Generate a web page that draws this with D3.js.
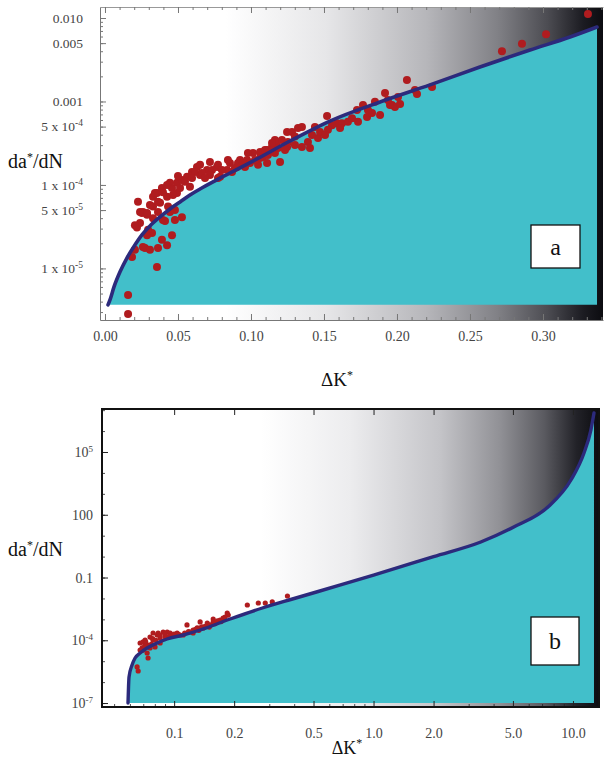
<!DOCTYPE html>
<html>
<head>
<meta charset="utf-8">
<script src="https://cdn.jsdelivr.net/npm/d3@7/dist/d3.min.js"></script>
<style>
  body { margin: 0; background: #fff; }
  svg { display: block; }
  text { font-family: "Liberation Serif", "Times New Roman", serif; }
</style>
</head>
<body>
<svg id="fig" width="605" height="760"></svg>
<script>
// ---------- panel a: measured growth rate vs ΔK* (linear ΔK*, log rate) ----------
const dKa = [
  0.0158,0.0158,0.0356,0.0185,0.0205,0.0274,0.0308,0.0363,0.0425,0.0459,
  0.039,0.0322,0.0295,0.0219,0.024,0.0205,0.0253,0.0288,0.0329,0.0377,
  0.0356,0.0425,0.039,0.0459,0.0493,0.0445,0.0527,0.0562,0.0596,0.063,
  0.0582,0.0493,0.0479,0.0527,0.0479,0.0445,0.0397,0.0651,0.0699,0.0733,
  0.0767,0.0788,0.0836,0.0856,0.0904,0.0925,0.0973,0.0993,0.1014,0.1062,
  0.1082,0.111,0.1144,0.1178,0.1212,0.1247,0.1164,
  0.0226,0.026,0.0288,0.026,0.0411,0.0329,0.0397,0.0425,0.0342,0.0363,
  0.0514,0.0466,0.0432,0.0329,0.024,0.0288,0.0616,0.0651,
  0.0719,0.0774,0.0842,0.0911,0.0979,0.1062,0.1096,0.1164,0.1185,0.1247,
  0.1281,0.1322,0.1349,0.1199,0.111,0.1048,0.0774,0.0719,0.0664,0.089,
  0.0959,0.1144,0.1253,0.1301,
  0.139,0.1404,0.1459,0.1438,0.1521,0.1527,0.1589,0.1623,0.1664,0.1733,
  0.1795,0.1767,0.1849,0.1884,0.1918,0.1966,0.1986,0.2007,0.2068,0.2123,
  0.1349,0.1473,0.1555,0.1726,0.1829,
  0.1952,0.2137,0.224,0.2719,0.2856,0.3021,0.3308,
  0.0308,0.0548,0.05,0.0363,0.0596,0.0685,0.0801,0.087,0.0945,0.1027,
  0.1116,0.1233,0.1301,0.1418,0.1507,0.161,0.1692,0.1801,0.1938,0.2021
];
const rateA = [
  2.85e-6,4.8e-6,1.04e-5,1.37e-5,1.67e-5,1.76e-5,1.67e-5,1.76e-5,1.9e-5,2.5e-5,
  2.2e-5,2.66e-5,2.9e-5,3.1e-5,3.5e-5,3.3e-5,4.6e-5,4.4e-5,5.5e-5,6.1e-5,
  8.0e-5,7.2e-5,9.2e-5,9.2e-5,1.06e-4,1.06e-4,1.15e-4,1.25e-4,1.43e-4,1.64e-4,
  9.5e-5,8.0e-5,5.0e-5,4.1e-5,3.8e-5,4.75e-5,3.8e-5,1.32e-4,1.51e-4,1.51e-4,
  1.64e-4,1.25e-4,1.51e-4,1.83e-4,1.64e-4,1.99e-4,1.99e-4,1.83e-4,2.42e-4,2.48e-4,
  2.16e-4,2.62e-4,2.85e-4,3.27e-4,3.46e-4,4.3e-4,2.42e-4,
  6.3e-5,4.75e-5,2.5e-5,1.8e-5,3.7e-5,7.2e-5,8.2e-5,1.0e-4,8.0e-5,6.3e-5,
  9.2e-5,7.6e-5,5.5e-5,4.0e-5,4.75e-5,4.6e-5,1.43e-4,1.74e-4,
  1.88e-4,1.74e-4,1.99e-4,1.83e-4,2.42e-4,2.10e-4,2.62e-4,3.46e-4,2.77e-4,2.85e-4,
  4.3e-4,4.8e-4,4.95e-4,1.88e-4,1.83e-4,1.74e-4,1.21e-4,1.32e-4,1.39e-4,1.60e-4,
  1.64e-4,3.18e-4,3.27e-4,3.8e-4,
  3.27e-4,2.77e-4,3.65e-4,4.95e-4,6.7e-4,4.6e-4,5.5e-4,5.5e-4,5.7e-4,5.7e-4,
  6.5e-4,9.1e-4,9.9e-4,6.9e-4,1.26e-3,9.1e-4,8.6e-4,1.13e-3,1.81e-3,1.37e-3,
  2.85e-4,4.3e-4,5.2e-4,7.9e-4,7.3e-4,
  9.1e-4,1.23e-3,1.49e-3,4.0e-3,4.9e-3,6.4e-3,1.12e-2,
  5.75e-5,1.09e-4,1.28e-4,4.75e-5,1.21e-4,1.21e-4,1.51e-4,1.43e-4,1.83e-4,1.99e-4,
  2.29e-4,2.62e-4,3.01e-4,3.97e-4,3.97e-4,4.8e-4,6.3e-4,7.9e-4,1.04e-3,9.3e-4
];
// fitted growth-law curve, panel a
const curveKa = [0.00205,0.00342,0.00616,0.0103,0.0151,0.0192,0.0253,0.0308,0.0377,0.0445,
  0.0514,0.0582,0.0651,0.0753,0.0856,0.1041,0.1267,0.1541,0.1884,0.2226,0.2568,0.2911,0.3185,0.337];
const curveRateA = [3.66e-6,4.2e-6,6.0e-6,9.1e-6,1.34e-5,1.76e-5,2.52e-5,3.23e-5,4.14e-5,5.16e-5,
  6.25e-5,7.59e-5,8.95e-5,1.12e-4,1.39e-4,2.05e-4,3.36e-4,5.83e-4,9.87e-4,1.58e-3,2.59e-3,4.14e-3,5.92e-3,7.8e-3];
const xTicksA = [0, 0.05, 0.10, 0.15, 0.20, 0.25, 0.30];
const xLabelsA = ["0.00","0.05","0.10","0.15","0.20","0.25","0.30"];
const yTicksA = [0.01, 0.005, 0.001, 5e-4, 1e-4, 5e-5, 1e-5];
const yLabelsA = ["0.010","0.005","0.001","5 x 10^-4","1 x 10^-4","5 x 10^-5","1 x 10^-5"];

// ---------- panel b: same quantities on log–log axes ----------
const dKb = [
  0.0652,0.066,0.0675,0.0691,0.0699,0.0715,0.0732,0.074,0.074,0.0757,
  0.0757,0.0784,0.0802,0.0822,0.0831,0.0851,0.0881,0.0902,0.0923,0.0955,
  0.0989,0.1035,0.1072,0.111,0.116,0.120,0.1245,0.1305,0.135,0.140,
  0.1466,0.1517,0.157,0.1644,0.170,0.176,0.1846,0.1868,0.2328,0.2643,
  0.2864,0.3105,0.370,0.0699,0.0851,0.0784,0.0923,0.1245,0.135,0.1466,
  0.157,0.0715,0.0675,
  0.085,0.09,0.095,0.1,0.105,0.113,0.118,0.128,0.133,0.138,
  0.143,0.15,0.16,0.165,0.172,0.18,0.078,0.081,0.072,0.077,0.071
];
const rateB = [
  5.3e-6,3.4e-6,7.4e-5,4.3e-5,3.4e-5,1.03e-4,2.47e-5,1.42e-5,5.9e-5,1.43e-4,
  4.3e-5,2.23e-4,4.8e-5,1.79e-4,2.23e-4,1.29e-4,2.49e-4,1.43e-4,2.49e-4,2.23e-4,
  1.79e-4,2.23e-4,1.79e-4,1.79e-4,5.4e-4,2.49e-4,3.1e-4,3.9e-4,7.5e-4,3.9e-4,
  4.8e-4,5.4e-4,1.04e-3,7.5e-4,9.3e-4,1.16e-3,2.01e-3,1.61e-3,4.86e-3,6.05e-3,
  6.05e-3,6.8e-3,1.31e-2,8.3e-5,7.4e-5,1.03e-4,1.43e-4,2.23e-4,3.9e-4,6.7e-4,
  7.5e-4,5.9e-5,3.4e-5,
  1.7e-4,2.0e-4,1.6e-4,2.0e-4,1.9e-4,2.2e-4,2.6e-4,3.3e-4,3.0e-4,4.4e-4,
  4.6e-4,4.3e-4,6.2e-4,8.5e-4,7.8e-4,1.3e-3,1.2e-4,1.0e-4,8.5e-5,6.5e-5,4.9e-5
];
const curveKb = [0.0587,0.0594,0.0615,0.0637,0.0675,0.0732,0.0822,0.0922,0.111,0.135,
  0.191,0.277,0.392,0.683,1.0,2.0,3.45,5.05,7.49,9.77,11.36,12.3,12.75];
const curveRateB = [1.0e-7,1.76e-6,6.6e-6,1.42e-5,2.47e-5,4.28e-5,7.41e-5,1.15e-4,1.79e-4,3.10e-4,
  1.04e-3,3.49e-3,9.4e-3,0.044,0.13,1.0,4.99,26.0,235,4590,8.96e4,1.12e6,7.3e6];
const xTicksB = [0.1, 0.2, 0.5, 1, 2, 5, 10];
const xLabelsB = ["0.1","0.2","0.5","1.0","2.0","5.0","10.0"];
const yTicksB = [1e5, 100, 0.1, 1e-4, 1e-7];
const yLabelsB = ["10^5","100","0.1","10^-4","10^-7"];

// ---------- drawing ----------
const svg = d3.select("#fig");
const defs = svg.append("defs");
const FILL = "#42bfca", LINE = "#2c2a7c", DOT = "#b01c1f";

function shade(id, x0, x1, stops) {
  const g = defs.append("linearGradient").attr("id", id)
    .attr("gradientUnits", "userSpaceOnUse")
    .attr("x1", x0).attr("x2", x1).attr("y1", 0).attr("y2", 0);
  stops.forEach(s => g.append("stop").attr("offset", s[0]).attr("stop-color", s[1]));
}

function writeLabel(sel, str, supSize) {
  sel.each(function(d, i) {
    const t = d3.select(this);
    const s = typeof str === "function" ? str(d, i) : str;
    const parts = s.split("^");
    t.text(null);
    t.append("tspan").text(parts[0]);
    if (parts.length > 1) t.append("tspan").attr("dy", -5).attr("font-size", supSize).text(parts[1]);
  });
}

function minorLog(lo, hi) {
  const out = [];
  for (let e = Math.floor(Math.log10(lo)); e <= Math.ceil(Math.log10(hi)); e++)
    for (let k = 1; k <= 9; k++) { const v = k * Math.pow(10, e); if (v >= lo && v <= hi) out.push(v); }
  return out;
}

function axisTitle(g, x, y, pre, sup, post, anchor, size) {
  const fs = size || 20;
  const t = g.append("text").attr("x", x).attr("y", y).attr("font-size", fs)
    .attr("fill", "#111").attr("text-anchor", anchor || "start");
  t.append("tspan").text(pre);
  t.append("tspan").attr("dy", -7).attr("font-size", 12).text(sup);
  if (post) t.append("tspan").attr("dy", 7).text(post);
}

function box(g, x, y, w, h, letter) {
  g.append("rect").attr("x", x).attr("y", y).attr("width", w).attr("height", h)
    .attr("fill", "#fff").attr("stroke", "#111").attr("stroke-width", 1.3);
  g.append("text").attr("x", x + w / 2).attr("y", y + h / 2 + 8)
    .attr("text-anchor", "middle").attr("font-size", 24).attr("fill", "#111").text(letter);
}

// ----- panel a -----
(function () {
  const L = 100, R = 603, T = 7, B = 320;
  const x = d3.scaleLinear().domain([-0.00342, 0.3411]).range([L, R]);
  const y = d3.scaleLog().domain([2.41e-6, 0.01355]).range([B, T]);
  const g = svg.append("g");
  shade("bgA", L, R, [[0, "#ffffff"], [0.25, "#ffffff"], [0.45, "#e6e6e8"], [0.65, "#b6b6ba"],
    [0.79, "#818186"], [0.89, "#4c4c52"], [0.96, "#1c1c22"], [1, "#0c0c10"]]);
  defs.append("clipPath").attr("id", "clipA").append("rect")
    .attr("x", L).attr("y", T).attr("width", R - L).attr("height", B - T);

  g.append("rect").attr("x", L).attr("y", T).attr("width", R - L).attr("height", B - T).attr("fill", "url(#bgA)");

  const pts = curveKa.map((k, i) => [k, curveRateA[i]]);
  const floor = curveRateA[0];
  const plot = g.append("g").attr("clip-path", "url(#clipA)");
  plot.append("path").datum(pts)
    .attr("d", d3.area().x(d => x(d[0])).y0(y(floor)).y1(d => y(d[1])).curve(d3.curveMonotoneX))
    .attr("fill", FILL);
  plot.selectAll("circle").data(dKa.map((k, i) => [k, rateA[i]])).join("circle")
    .attr("cx", d => x(d[0])).attr("cy", d => y(d[1])).attr("r", 4).attr("fill", DOT);
  plot.append("path").datum(pts)
    .attr("d", d3.line().x(d => x(d[0])).y(d => y(d[1])).curve(d3.curveMonotoneX))
    .attr("fill", "none").attr("stroke", LINE).attr("stroke-width", 3.6).attr("stroke-linecap", "round");

  const tickCol = "#777";
  // bottom axis
  const xMinor = d3.range(0, 0.3401, 0.01);
  g.append("g").attr("transform", `translate(0,${B})`)
    .call(d3.axisBottom(x).tickValues(xMinor).tickSize(-3).tickSizeOuter(0).tickFormat(""))
    .call(s => s.select(".domain").attr("stroke", tickCol))
    .call(s => s.selectAll("line").attr("stroke", tickCol));
  const xa = g.append("g").attr("transform", `translate(0,${B})`)
    .call(d3.axisBottom(x).tickValues(xTicksA).tickSize(-6).tickSizeOuter(0).tickPadding(11)
      .tickFormat((d, i) => xLabelsA[i]));
  xa.select(".domain").remove();
  xa.selectAll("line").attr("stroke", tickCol);
  xa.selectAll("text").attr("font-size", 14).attr("fill", "#444").attr("font-family", "Liberation Serif");
  // top frame
  g.append("g").attr("transform", `translate(0,${T})`)
    .call(d3.axisTop(x).tickValues(xMinor).tickSize(-3).tickSizeOuter(0).tickFormat(""))
    .call(s => s.select(".domain").attr("stroke", "#999"))
    .call(s => s.selectAll("line").attr("stroke", tickCol));
  g.append("g").attr("transform", `translate(0,${T})`)
    .call(d3.axisTop(x).tickValues(xTicksA).tickSize(-6).tickSizeOuter(0).tickFormat(""))
    .call(s => s.select(".domain").remove())
    .call(s => s.selectAll("line").attr("stroke", tickCol));
  // left axis
  g.append("g").attr("transform", `translate(${L},0)`)
    .call(d3.axisLeft(y).tickValues(minorLog(2.5e-6, 0.0135)).tickSize(-3).tickSizeOuter(0).tickFormat(""))
    .call(s => s.select(".domain").attr("stroke", tickCol))
    .call(s => s.selectAll("line").attr("stroke", tickCol));
  const ya = g.append("g").attr("transform", `translate(${L},0)`)
    .call(d3.axisLeft(y).tickValues(yTicksA).tickSize(-6).tickSizeOuter(0).tickPadding(17)
      .tickFormat((d, i) => yLabelsA[i]));
  ya.select(".domain").remove();
  ya.selectAll("line").attr("stroke", tickCol);
  ya.selectAll("text").attr("font-size", 13.5).attr("fill", "#444").attr("font-family", "Liberation Serif")
    .call(writeLabel, (d, i) => yLabelsA[i], 9.5);

  axisTitle(g, 8, 168, "da", "*", "/dN");
  axisTitle(g, 337, 386, "ΔK", "*", null, "middle", 19);
  box(g, 531, 225, 49, 43, "a");
})();

// ----- panel b -----
(function () {
  const L = 102, R = 599, T = 409, B = 707;
  const x = d3.scaleLog().domain([0.04347, 13.51]).range([L, R]);
  const y = d3.scaleLog().domain([6.47e-8, 1.135e7]).range([B, T]);
  const g = svg.append("g");
  shade("bgB", L, R, [[0, "#ffffff"], [0.32, "#ffffff"], [0.5, "#ececee"], [0.68, "#c4c4c8"],
    [0.8, "#919196"], [0.89, "#5a5a60"], [0.955, "#222228"], [1, "#0c0c10"]]);
  defs.append("clipPath").attr("id", "clipB").append("rect")
    .attr("x", L).attr("y", T).attr("width", R - L).attr("height", B - T);

  g.append("rect").attr("x", L).attr("y", T).attr("width", R - L).attr("height", B - T).attr("fill", "url(#bgB)");

  const pts = curveKb.map((k, i) => [k, curveRateB[i]]);
  const floor = curveRateB[0];
  const plot = g.append("g").attr("clip-path", "url(#clipB)");
  plot.append("path").datum(pts)
    .attr("d", d3.area().x(d => x(d[0])).y0(y(floor)).y1(d => y(d[1])).curve(d3.curveMonotoneX))
    .attr("fill", FILL);
  plot.selectAll("circle").data(dKb.map((k, i) => [k, rateB[i]])).join("circle")
    .attr("cx", d => x(d[0])).attr("cy", d => y(d[1])).attr("r", 2.6).attr("fill", DOT);
  plot.append("path").datum(pts)
    .attr("d", d3.line().x(d => x(d[0])).y(d => y(d[1])).curve(d3.curveMonotoneX))
    .attr("fill", "none").attr("stroke", LINE).attr("stroke-width", 3.4).attr("stroke-linecap", "round");

  const tickCol = "#222";
  const xMinor = minorLog(0.05, 13).filter(v => xTicksB.indexOf(v) < 0);
  g.append("g").attr("transform", `translate(0,${B})`)
    .call(d3.axisBottom(x).tickValues(xMinor).tickSize(-3).tickSizeOuter(0).tickFormat(""))
    .call(s => s.select(".domain").remove())
    .call(s => s.selectAll("line").attr("stroke", tickCol).attr("stroke-width", 0.8));
  const xa = g.append("g").attr("transform", `translate(0,${B})`)
    .call(d3.axisBottom(x).tickValues(xTicksB).tickSize(-6).tickSizeOuter(0).tickPadding(21)
      .tickFormat((d, i) => xLabelsB[i]));
  xa.select(".domain").remove();
  xa.selectAll("line").attr("stroke", tickCol);
  xa.selectAll("text").attr("font-size", 14).attr("fill", "#444").attr("font-family", "Liberation Serif");
  g.append("g").attr("transform", `translate(0,${T})`)
    .call(d3.axisTop(x).tickValues(xTicksB).tickSize(-6).tickSizeOuter(0).tickFormat(""))
    .call(s => s.select(".domain").remove())
    .call(s => s.selectAll("line").attr("stroke", tickCol));

  const yMinor = d3.range(-7, 8).map(e => Math.pow(10, e));
  g.append("g").attr("transform", `translate(${L},0)`)
    .call(d3.axisLeft(y).tickValues(yMinor).tickSize(-3).tickSizeOuter(0).tickFormat(""))
    .call(s => s.select(".domain").remove())
    .call(s => s.selectAll("line").attr("stroke", tickCol).attr("stroke-width", 0.8));
  const ya = g.append("g").attr("transform", `translate(${L},0)`)
    .call(d3.axisLeft(y).tickValues(yTicksB).tickSize(-6).tickSizeOuter(0).tickPadding(9)
      .tickFormat((d, i) => yLabelsB[i]));
  ya.select(".domain").remove();
  ya.selectAll("line").attr("stroke", tickCol);
  ya.selectAll("text").attr("font-size", 14).attr("fill", "#444").attr("font-family", "Liberation Serif")
    .call(writeLabel, (d, i) => yLabelsB[i], 9);

  g.append("rect").attr("x", L).attr("y", T).attr("width", R - L).attr("height", B - T)
    .attr("fill", "none").attr("stroke", "#111").attr("stroke-width", 2);

  axisTitle(g, 8, 556, "da", "*", "/dN");
  axisTitle(g, 347, 754, "ΔK", "*", null, "middle", 18);
  box(g, 531, 617, 48, 48, "b");
})();
</script>
</body>
</html>
